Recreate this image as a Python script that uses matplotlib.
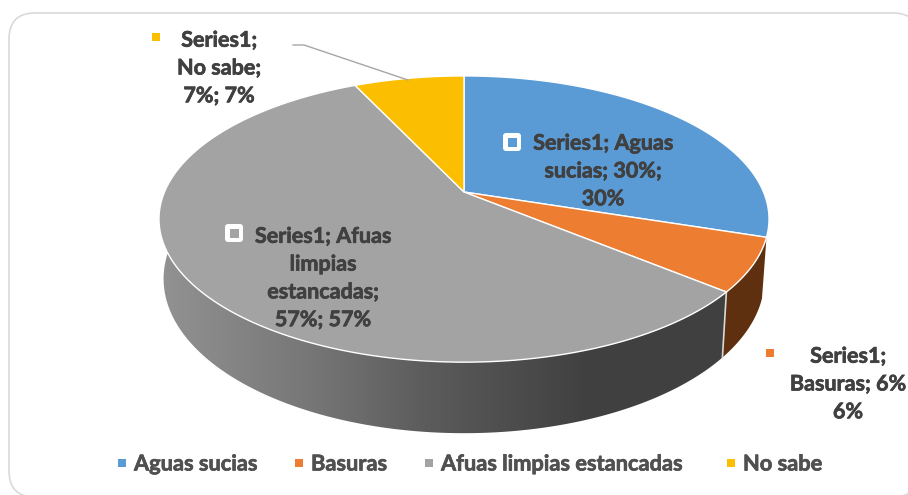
import numpy as np
import matplotlib
matplotlib.use("Agg")
import matplotlib.pyplot as plt
import matplotlib.patheffects as pe
from matplotlib.colors import LinearSegmentedColormap
from matplotlib.patches import Polygon, FancyBboxPatch, Rectangle

categories = ["Aguas sucias", "Basuras", "Afuas limpias estancadas", "No sabe"]
values = [30, 6, 57, 7]
colors = ["#5B9BD5", "#ED7D31", "#A3A3A3", "#FCBE00"]
series_name = "Series1"

plt.rcParams['font.family'] = ['Lato', 'DejaVu Sans']
plt.rcParams['font.weight'] = 'bold'
TXT = "#404040"
FS = 15.5

fig = plt.figure(figsize=(9.08, 4.95), dpi=100)
ax = fig.add_axes([0, 0, 1, 1])
ax.axis("off")

ax.add_patch(FancyBboxPatch((9, 13), 910, 484, boxstyle="round,pad=0,rounding_size=26",
                            fc="white", ec="#D9D9D9", lw=1.2, zorder=0.5))

CX, CY = 464.0, 192.0
X, A, B, DEPTH, SHRINK = 299.5, 138.0, 0.189, 57.6, 0.985


def project(theta, drop=0.0):
    u = np.sin(theta)
    v = np.cos(theta)
    den = 1 + B * v
    sx = 1 - (1 - SHRINK) * drop
    return CX + X * sx * u / den, CY - A * v / den + DEPTH * drop / den


fracs = np.array(values, dtype=float) / sum(values)
edges = np.concatenate([[0], np.cumsum(fracs)]) * 2 * np.pi

# Side wall of the large slice: gradient fill clipped to the projected wall
t = np.linspace(edges[2], edges[3], 300)
x0, y0 = project(t)
x1, y1 = project(t, drop=1)
wall = Polygon(np.vstack([np.column_stack([x0, y0]), np.column_stack([x1, y1])[::-1]]),
               closed=True, fc="none", ec="none", transform=ax.transData)
ax.add_patch(wall)
cmap = LinearSegmentedColormap.from_list(
    "wall", [(0.0, "#939393"), (0.28, "#757575"), (0.48, "#5A5A5A"), (0.74, "#414141"), (1.0, "#404040")])
im = ax.imshow(np.linspace(0, 1, 600)[None, :], extent=(155, 735, 440, 200), cmap=cmap,
               aspect="auto", zorder=1, interpolation="bilinear")
im.set_clip_path(wall)

# Side wall of the small slice
t = np.linspace(edges[1], edges[2], 60)
x0, y0 = project(t)
x1, y1 = project(t, drop=1)
ax.add_patch(Polygon(np.vstack([np.column_stack([x0, y0]), np.column_stack([x1, y1])[::-1]]),
                     closed=True, fc="#5E3010", ec="none", zorder=1))

# Light seam between the two visible wall segments
ax.plot(*zip(project(edges[2]), project(edges[2], drop=1)), color="#D9D9D9", lw=1.2, zorder=1.5)

# Top face
for i, c in enumerate(colors):
    t = np.linspace(edges[i], edges[i + 1], 200)
    px, py = project(t)
    pts = np.vstack([[CX, CY], np.column_stack([px, py])])
    ax.add_patch(Polygon(pts, closed=True, fc=c, ec="white", lw=1.0, joinstyle="round", zorder=2))

# Data labels
heavy = [pe.withStroke(linewidth=0.5, foreground=TXT)]
labels = [
    (603, 171, f"{series_name}; Aguas\nsucias; 30%;\n30%"),
    (848, 384, f"{series_name};\nBasuras; 6%\n6%"),
    (323, 278, f"{series_name}; Afuas\nlimpias\nestancadas;\n57%; 57%"),
    (219, 68, f"{series_name};\nNo sabe;\n7%; 7%"),
]
for x, y, s in labels:
    ax.text(x, y, s, ha="center", va="center", fontsize=FS, fontweight="bold", color=TXT,
            linespacing=1.4, zorder=4, path_effects=heavy)


def key(x, y, c, size=8):
    ax.add_patch(Rectangle((x - size / 2, y - size / 2), size, size, fc=c, ec="none", zorder=5))


# Label keys on the wedges have a white halo
for x, y, c in [(512, 142, colors[0]), (234, 233, colors[2])]:
    ax.add_patch(FancyBboxPatch((x - 9, y - 9), 18, 18, boxstyle="round,pad=0,rounding_size=3",
                                fc="white", ec="none", zorder=4.5))
    key(x, y, c, 9)
key(156, 37, colors[3])
key(770, 353, colors[1])

# Leader line
ax.plot([293, 304, 408], [45, 45, 80], color="#A6A6A6", lw=1.0, zorder=3)

# Legend
leg_heavy = [pe.withStroke(linewidth=0.5, foreground="#505050")]
leg_items = [(122, 134), (299, 311), (429, 441), (731, 743)]
for (kx, tx), c, name in zip(leg_items, colors, categories):
    key(kx, 463, c)
    ax.text(tx, 464, name, ha="left", va="center", fontsize=FS + 0.2, fontweight="bold", color="#505050",
            zorder=4, path_effects=leg_heavy)

ax.set_xlim(0, 908)
ax.set_ylim(495, 0)

fig.savefig("out.png", dpi=100, facecolor="white")
